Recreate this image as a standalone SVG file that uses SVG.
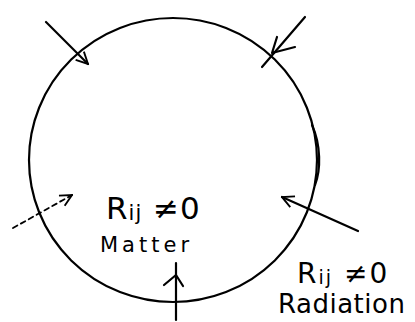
<svg xmlns="http://www.w3.org/2000/svg" width="415" height="322" viewBox="0 0 415 322">
<style>
.ln{fill:none;stroke:#000;stroke-width:2.2;stroke-linecap:round;stroke-linejoin:round}
.dash{fill:none;stroke:#000;stroke-width:1.8;stroke-dasharray:5 4;stroke-linecap:round}
.t{font-family:"DejaVu Sans","Liberation Sans",sans-serif;fill:#000}
</style>
<defs>
<marker id="ahb" viewBox="0 0 12 12" refX="11" refY="6" markerWidth="14" markerHeight="14" orient="auto" markerUnits="userSpaceOnUse">
<path d="M1,1 L11,6 L1,11" fill="none" stroke="#000" stroke-width="1.6"/>
</marker>
</defs>
<g id="boundary">
<ellipse class="ln" cx="173" cy="160" rx="144" ry="142"/>
<path class="ln" d="M312,125 C321,145 321,170 315,185" stroke-width="1.5"/>
</g>
<g id="matter-label">
<text class="t" x="106" y="219" font-size="31" letter-spacing="1">R<tspan font-size="21" dy="1">ij</tspan><tspan dy="-1"> ≠0</tspan></text>
<text class="t" x="100" y="252" font-size="21" letter-spacing="4">Matter</text>
</g>
<g id="radiation-label">
<text class="t" x="297" y="283" font-size="28" letter-spacing="2">R<tspan font-size="19" dy="1">ij</tspan><tspan dy="-1"> ≠0</tspan></text>
<text class="t" x="278" y="313" font-size="26" letter-spacing="0.5">Radiation</text>
</g>
<g id="connectors">
<line class="ln" x1="46" y1="22" x2="88" y2="64" marker-end="url(#ahb)"/>
<line class="ln" x1="305" y1="17" x2="262" y2="67"/>
<path class="ln" d="M277,37 L272,53 L295,47"/>
<line class="ln" x1="358" y1="231" x2="282" y2="197" marker-end="url(#ahb)"/>
<line class="dash" x1="13" y1="228" x2="72" y2="195" marker-end="url(#ahb)"/>
<line class="ln" x1="176" y1="320" x2="176" y2="263"/>
<path class="ln" d="M164,285 L176,275 L183,286"/>
</g>
</svg>
